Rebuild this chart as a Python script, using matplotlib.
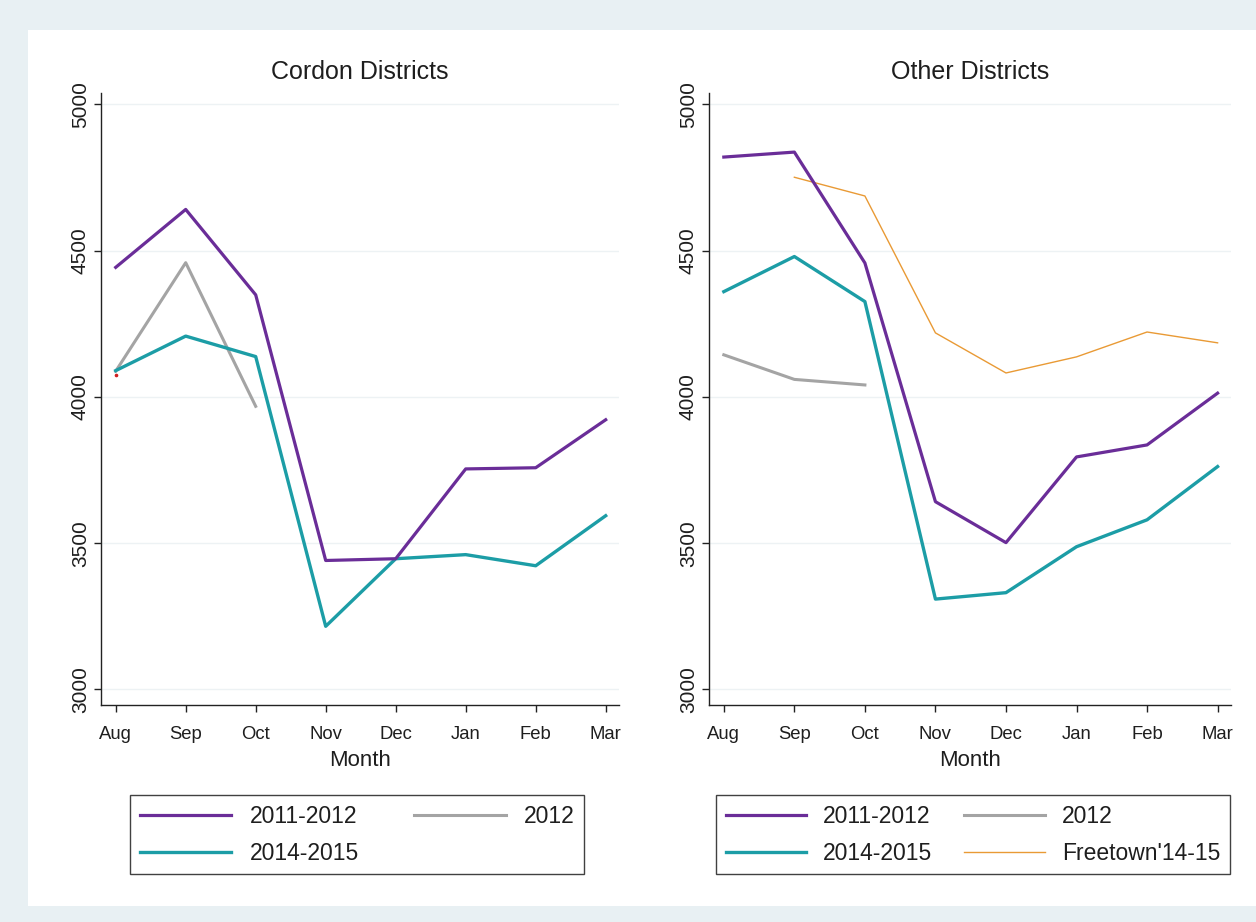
import matplotlib
matplotlib.use("Agg")
import matplotlib.pyplot as plt
from matplotlib.patches import Rectangle
import numpy as np

plt.rcParams['font.family'] = ['Liberation Sans', 'DejaVu Sans']

# ---- data -------------------------------------------------------------
months = ['Aug', 'Sep', 'Oct', 'Nov', 'Dec', 'Jan', 'Feb', 'Mar']
yticks = [3000, 3500, 4000, 4500, 5000]

cordon_2011_12 = [4443, 4641, 4349, 3441, 3447, 3754, 3758, 3922]
cordon_2012 = [4088, 4459, 3968]
cordon_2014_15 = [4090, 4208, 4138, 3216, 3447, 3461, 3423, 3594]
cordon_extra = [4075]

other_2011_12 = [4820, 4837, 4458, 3642, 3502, 3795, 3836, 4013]
other_2012 = [4144, 4060, 4041]
other_2014_15 = [4360, 4480, 4326, 3309, 3331, 3488, 3580, 3762]
freetown_14_15 = [4751, 4687, 4219, 4082, 4137, 4222, 4185]

# ---- style ------------------------------------------------------------
C_PURPLE = '#6a2d98'
C_TEAL = '#1c9da6'
C_GREY = '#a4a4a4'
C_ORANGE = '#e99a35'
TXT = '#1e1e1e'

W, H = 1256, 922
fig = plt.figure(figsize=(W / 100, H / 100), dpi=100)
fig.patch.set_facecolor('#e8f0f3')
fig.add_artist(Rectangle((28 / W, 1 - 906 / H), 1.0, (906 - 30) / H,
                         transform=fig.transFigure, facecolor='white',
                         edgecolor='none', zorder=-10))


def px_axes(x0, x1, y_top, y_bot):
    return fig.add_axes([x0 / W, 1 - y_bot / H, (x1 - x0) / W, (y_bot - y_top) / H])


def style_axes(ax, title):
    ax.set_facecolor('white')
    ax.set_xlim(-0.21, 7.19)
    ax.set_ylim(2947, 5039)
    ax.set_xticks(range(len(months)))
    ax.set_xticklabels(months, fontsize=13.3, color=TXT)
    ax.set_yticks(yticks)
    ax.set_yticklabels([str(v) for v in yticks], fontsize=15, color=TXT,
                       rotation=90, va='center')
    ax.tick_params(axis='both', direction='out', length=5, width=1.0, color='#222222')
    ax.tick_params(axis='x', pad=10)
    ax.tick_params(axis='y', pad=3)
    for s in ('top', 'right'):
        ax.spines[s].set_visible(False)
    for s in ('left', 'bottom'):
        ax.spines[s].set_color('#222222')
        ax.spines[s].set_linewidth(1.0)
    ax.grid(axis='y', color='#edf2f4', linewidth=1.0)
    ax.set_axisbelow(True)
    ax.set_xlabel('Month', fontsize=16, color=TXT, labelpad=5)
    ax.set_title(title, fontsize=18, color=TXT, pad=10)


x = np.arange(len(months))

# left panel: cordon districts
ax1 = px_axes(101, 619, 93, 705)
style_axes(ax1, 'Cordon Districts')
g1, = ax1.plot(x[:len(cordon_2012)], cordon_2012, color=C_GREY, lw=2.2, label='2012')
t1, = ax1.plot(x, cordon_2014_15, color=C_TEAL, lw=2.4, label='2014-2015')
p1, = ax1.plot(x, cordon_2011_12, color=C_PURPLE, lw=2.3, label='2011-2012')
ax1.plot(x[:1], cordon_extra, 'o', color='#d02020', ms=1.6, zorder=1)

leg_kw = dict(ncol=2, loc='upper left', bbox_transform=fig.transFigure,
              fontsize=16.5, frameon=True, fancybox=False, edgecolor='#111111',
              labelspacing=0.62, borderpad=0.42, borderaxespad=0)

leg1 = ax1.legend(handles=[p1, t1, g1], bbox_to_anchor=(130 / W, 1 - 795 / H),
                  handlelength=4.0, handletextpad=0.8, columnspacing=2.4, **leg_kw)
leg1.get_frame().set_linewidth(1.0)
for t in leg1.get_texts():
    t.set_color(TXT)

# right panel: other districts
ax2 = px_axes(709, 1231, 93, 705)
style_axes(ax2, 'Other Districts')
g2, = ax2.plot(x[:len(other_2012)], other_2012, color=C_GREY, lw=2.2, label='2012')
f2, = ax2.plot(x[1:], freetown_14_15, color=C_ORANGE, lw=1.0, label="Freetown'14-15")
t2, = ax2.plot(x, other_2014_15, color=C_TEAL, lw=2.4, label='2014-2015')
p2, = ax2.plot(x, other_2011_12, color=C_PURPLE, lw=2.3, label='2011-2012')

leg2 = ax2.legend(handles=[p2, t2, g2, f2], bbox_to_anchor=(716 / W, 1 - 795 / H),
                  handlelength=3.5, handletextpad=0.75, columnspacing=1.4, **leg_kw)
leg2.get_frame().set_linewidth(1.0)
for t in leg2.get_texts():
    t.set_color(TXT)

fig.savefig('out.png', dpi=100, facecolor=fig.get_facecolor())
